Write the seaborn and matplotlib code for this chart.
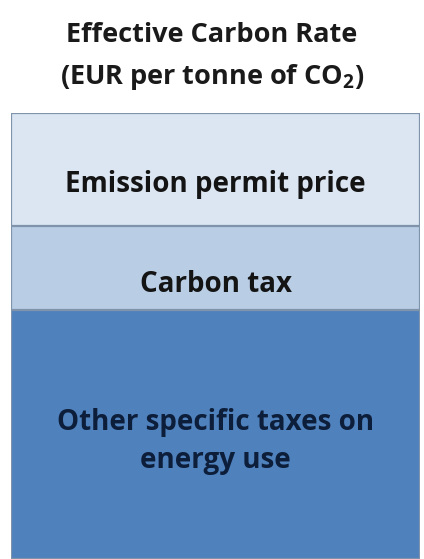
import matplotlib
matplotlib.use("Agg")
import matplotlib.pyplot as plt
import seaborn as sns
import pandas as pd

# segments from the top of the bar down to its base (schematic sizes)
segments = ["Emission permit price", "Carbon tax", "Other specific taxes on\nenergy use"]
sizes = [113, 84, 249]
colors = ["#dce6f2", "#b9cde5", "#4f81bd"]
text_colors = ["#141414", "#141414", "#0d1e3a"]
title = "Effective Carbon Rate\n(EUR per tonne of CO$_{\\mathbf{2}}$)"

sns.set_theme(style="white")
plt.rcParams["font.family"] = ["Open Sans", "DejaVu Sans"]
plt.rcParams["mathtext.fontset"] = "custom"
plt.rcParams["mathtext.bf"] = "Open Sans:bold"
plt.rcParams["mathtext.rm"] = "Open Sans:bold"

fig = plt.figure(figsize=(4.24, 5.59), dpi=100)
ax = fig.add_axes([11 / 424, 0.0, 409 / 424, 1 - 113 / 559])

# cumulative tops, base segment first
order = list(range(len(segments)))[::-1]
tops = []
running = 0
for i in order:
    running += sizes[i]
    tops.append((i, running))

for i, top in sorted(tops, key=lambda t: -t[1]):
    df = pd.DataFrame({"x": ["bar"], "y": [top]})
    sns.barplot(data=df, x="x", y="y", color=colors[i], saturation=1,
                width=1.0, edgecolor="#7f93ab", linewidth=1.6, ax=ax)

# label nudges in pixels (labels sit a bit below the segment middle)
nudge = [-15, -17, -7]
for i, top in tops:
    mid = top - sizes[i] / 2 + nudge[i]
    ax.text(0, mid, segments[i], ha="center", va="center",
            fontsize=20, fontweight="bold", color=text_colors[i],
            linespacing=1.4)

ax.set_xlim(-0.5, 0.5)
ax.set_ylim(0, sum(sizes))
ax.set_axis_off()

fig.text(0.5, 1 - 57 / 559, title, ha="center", va="center",
         fontsize=19.5, fontweight="bold", color="#1a1a1a", linespacing=1.6)

fig.savefig("out.png", dpi=100)
